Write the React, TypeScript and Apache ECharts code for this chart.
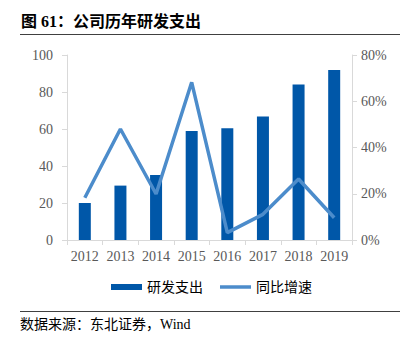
import React, { useEffect, useRef } from "react";
import * as echarts from "echarts";

const years = ["2012", "2013", "2014", "2015", "2016", "2017", "2018", "2019"];
const rdExpense = [20.0, 29.4, 35.1, 58.9, 60.4, 66.7, 84.1, 91.9];
const yoyGrowth = [18.3, 48.0, 19.9, 68.2, 3.2, 11.1, 26.4, 9.6];
const leftTicks = { min: 0, max: 100, interval: 20 };
const rightTicks = { min: 0, max: 80, interval: 20 };

const titleText = "图 61：公司历年研发支出";
const sourceText = "数据来源：东北证券，Wind";
const seriesNames = ["研发支出", "同比增速"];

const SERIF = "'Liberation Serif', 'Times New Roman', 'Noto Sans CJK SC', serif";

export default function App() {
  const ref = useRef<HTMLDivElement>(null);
  useEffect(() => {
    if (!ref.current) return;
    const chart = echarts.init(ref.current, undefined, { renderer: "svg" });
    const axisLabelColor = "#595959";
    const axisGrey = "#D9D9D9";
    chart.setOption({
      animation: false,
      backgroundColor: "#fff",
      grid: { left: 67, right: 58, top: 55, bottom: 111, containLabel: false },
      legend: {
        left: 111,
        top: 280,
        padding: 0,
        itemGap: 17,
        itemWidth: 31,
        itemHeight: 6,
        textStyle: { fontFamily: SERIF, fontSize: 14, color: "#000" },
        data: [
          { name: seriesNames[0], icon: "rect" },
          { name: seriesNames[1], icon: "path://M0,0 L31,0 L31,3.5 L0,3.5 Z" },
        ],
      },
      xAxis: {
        type: "category",
        data: years,
        axisLine: { lineStyle: { color: axisGrey, width: 1 } },
        axisTick: { show: true, length: 5, lineStyle: { color: axisGrey } },
        axisLabel: {
          color: axisLabelColor,
          fontFamily: SERIF,
          fontSize: 14,
          margin: 9,
          interval: 0,
        },
      },
      yAxis: [
        {
          type: "value",
          min: leftTicks.min,
          max: leftTicks.max,
          interval: leftTicks.interval,
          splitLine: { show: false },
          axisLine: { show: true, lineStyle: { color: axisGrey } },
          axisTick: { show: true, length: 5, lineStyle: { color: axisGrey } },
          axisLabel: { color: axisLabelColor, fontFamily: SERIF, fontSize: 14, margin: 14 },
        },
        {
          type: "value",
          position: "right",
          min: rightTicks.min,
          max: rightTicks.max,
          interval: rightTicks.interval,
          splitLine: { show: false },
          axisLine: { show: true, lineStyle: { color: axisGrey } },
          axisTick: { show: true, length: 5, lineStyle: { color: axisGrey } },
          axisLabel: {
            color: axisLabelColor,
            fontFamily: SERIF,
            fontSize: 14,
            margin: 9,
            formatter: "{value}%",
          },
        },
      ],
      series: [
        {
          name: seriesNames[0],
          type: "bar",
          data: rdExpense,
          barWidth: 12,
          itemStyle: { color: "#0057A8" },
          yAxisIndex: 0,
        },
        {
          name: seriesNames[1],
          type: "line",
          data: yoyGrowth,
          yAxisIndex: 1,
          symbol: "none",
          lineStyle: { color: "#4C8CCB", width: 3.5 },
          itemStyle: { color: "#4C8CCB" },
        },
      ],
      graphic: [
        {
          type: "text",
          x: 21,
          y: 21,
          style: {
            text: titleText,
            font: "bold 16px " + SERIF,
            fill: "#000",
            verticalAlign: "middle",
          },
        },
        {
          type: "line",
          shape: { x1: 20, y1: 34.5, x2: 400, y2: 34.5 },
          style: { stroke: "#404040", lineWidth: 1 },
        },
        {
          type: "line",
          shape: { x1: 20, y1: 311.5, x2: 400, y2: 311.5 },
          style: { stroke: "#404040", lineWidth: 1 },
        },
        {
          type: "text",
          x: 20,
          y: 324,
          style: {
            text: sourceText,
            font: "14px " + SERIF,
            fill: "#000",
            verticalAlign: "middle",
          },
        },
      ],
    });
    return () => chart.dispose();
  }, []);
  return (
    <div
      ref={ref}
      style={{ position: "fixed", left: 0, top: 0, width: 410, height: 351 }}
    />
  );
}
